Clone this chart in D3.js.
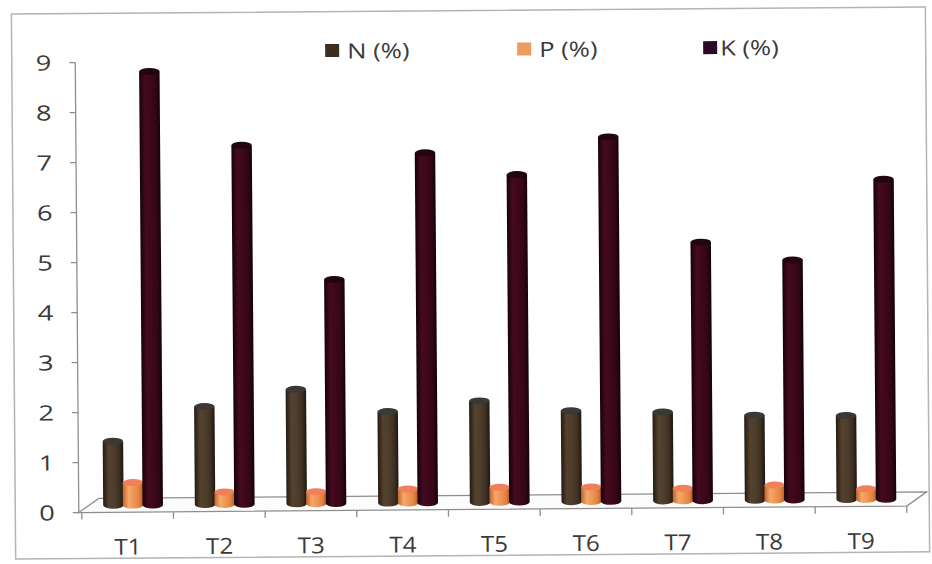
<!DOCTYPE html>
<html>
<head>
<meta charset="utf-8">
<script src="https://cdn.jsdelivr.net/npm/d3@7"></script>
<style>
  body { margin: 0; background: #fff; }
  svg { display: block; }
  text { font-family: "Open Sans", "Liberation Sans", sans-serif; fill: #3a3a3a; }
</style>
</head>
<body>
<svg id="chart" width="932" height="564"></svg>
<script>
// Nutrient content per treatment
const categories = ["T1", "T2", "T3", "T4", "T5", "T6", "T7", "T8", "T9"];
const seriesNames = ["N (%)", "P (%)", "K (%)"];
const nValues = [1.28, 1.96, 2.29, 1.83, 2.03, 1.82, 1.78, 1.70, 1.68];
const pValues = [0.45, 0.25, 0.24, 0.28, 0.30, 0.29, 0.25, 0.30, 0.21];
const kValues = [8.67, 7.18, 4.48, 7.00, 6.55, 7.29, 5.17, 4.80, 6.40];
const yTicks = [0, 1, 2, 3, 4, 5, 6, 7, 8, 9];

const seriesValues = [nValues, pValues, kValues];

const svg = d3.select("#chart");
const root = svg.append("g").attr("transform", "rotate(-0.45 466 282)");

const x = d3.scaleBand().domain(categories).range([80, 905]);
const xs = d3.scaleBand().domain(seriesNames).range([-34, 25]);
const y = d3.scaleLinear().domain([0, 9]).range([509.5, 59.5]);
const depth = { dx: 20, dy: -14 };
const axisX = 77;
const gridColor = "#8e8e8e";

// wide text: place at (px, py) and stretch horizontally
function placeText(sel, px, py, sx) {
  sel.attr("transform", (d, i) => `translate(${px(d, i)},${py(d, i)}) scale(${sx},1)`);
}

// cylinder shading
const defs = svg.append("defs");
const shades = {
  "N (%)": { stops: ["#241b12", "#54422f", "#4e3d2b", "#3e3022", "#1e160f"], top: "#3b3935", legend: "#3e2e20" },
  "P (%)": { stops: ["#c0642c", "#f5a86c", "#ef9556", "#e1813f", "#b35a26"], top: "#f0805a", legend: "#ef9a5e" },
  "K (%)": { stops: ["#150208", "#450a20", "#3d0819", "#330615", "#120207"], top: "#22060e", legend: "#2a0a28" }
};
seriesNames.forEach((s, i) => {
  const g = defs.append("linearGradient").attr("id", "cyl" + i)
    .attr("x1", "0%").attr("x2", "100%").attr("y1", "0%").attr("y2", "0%");
  const offs = [0, 0.28, 0.55, 0.8, 1];
  shades[s].stops.forEach((c, k) => g.append("stop").attr("offset", offs[k]).attr("stop-color", c));
});

// outer frame
root.append("rect")
  .attr("x", 13.5).attr("y", 10.5).attr("width", 914).attr("height", 545)
  .attr("fill", "none").attr("stroke", "#b4b4b4").attr("stroke-width", 1.5);

// floor of the 3D plot area
const x0 = axisX, x1 = x.range()[1];
const yb = y(0);
root.append("path")
  .attr("d", `M${x0},${yb} L${x1},${yb} L${x1 + depth.dx},${yb + depth.dy} L${x0 + depth.dx},${yb + depth.dy} Z`)
  .attr("fill", "#fcfcfc").attr("stroke", gridColor).attr("stroke-width", 1.3);

// value axis
const yAxisG = root.append("g");
yAxisG.append("line")
  .attr("x1", axisX).attr("x2", axisX).attr("y1", y(0)).attr("y2", y(9))
  .attr("stroke", gridColor).attr("stroke-width", 1.3);
yAxisG.selectAll(".ytick").data(yTicks).join("line")
  .attr("x1", axisX - 6).attr("x2", axisX).attr("y1", d => y(d)).attr("y2", d => y(d))
  .attr("stroke", gridColor).attr("stroke-width", 1.3);
yAxisG.selectAll(".ylab").data(yTicks).join("text")
  .attr("dy", "0.36em").attr("text-anchor", "end").attr("font-size", 21)
  .call(placeText, () => 53, d => y(d), 1.3)
  .text(d => d);

// category ticks and labels
const bounds = categories.map(c => x(c)).concat([x.range()[1]]);
root.selectAll(".xtick").data(bounds).join("line")
  .attr("x1", d => d).attr("x2", d => d).attr("y1", yb).attr("y2", yb + 7)
  .attr("stroke", gridColor).attr("stroke-width", 1.3);
root.selectAll(".xlab").data(categories).join("text")
  .attr("dy", "0.36em").attr("text-anchor", "middle").attr("font-size", 22)
  .call(placeText, d => x(d) + x.bandwidth() / 2, () => 544, 1.1)
  .text(d => d);

// cylinders
const ry = 3.5;
const w = xs.bandwidth() * 1.04;
const cyl = [];
categories.forEach((c, ci) => {
  seriesNames.forEach((s, si) => {
    cyl.push({ c, s, si, v: seriesValues[si][ci] });
  });
});
const cg = root.selectAll(".cyl").data(cyl).join("g");
cg.each(function (d) {
  const g = d3.select(this);
  const cx = x(d.c) + x.bandwidth() / 2 + xs(d.s) + xs.bandwidth() / 2 + depth.dx / 2;
  const base = y(0) + depth.dy / 2;
  const top = y(d.v) + depth.dy / 2;
  const l = cx - w / 2, r = cx + w / 2;
  g.append("path")
    .attr("d", `M${l},${top} L${l},${base} A${w / 2},${ry} 0 0 0 ${r},${base} L${r},${top} Z`)
    .attr("fill", `url(#cyl${d.si})`);
  g.append("ellipse")
    .attr("cx", cx).attr("cy", top).attr("rx", w / 2).attr("ry", ry)
    .attr("fill", shades[d.s].top);
});

// legend
const legendPos = [{ sq: 327, tx: 349 }, { sq: 519, tx: 541 }, { sq: 705, tx: 722 }];
const lg = root.selectAll(".leg").data(seriesNames).join("g");
lg.append("rect")
  .attr("x", (d, i) => legendPos[i].sq).attr("y", 43).attr("width", 14).attr("height", 13)
  .attr("fill", d => shades[d].legend);
lg.append("text")
  .attr("dy", "0.36em").attr("font-size", 21)
  .call(placeText, (d, i) => legendPos[i].tx, () => 50, 1.22)
  .text(d => d);
</script>
</body>
</html>
